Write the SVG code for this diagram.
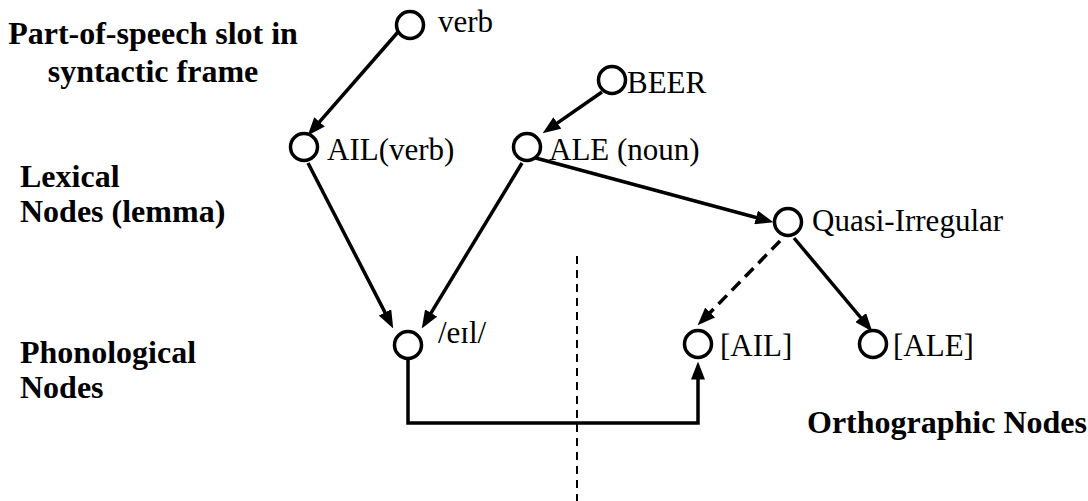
<svg xmlns="http://www.w3.org/2000/svg" width="1088" height="501" viewBox="0 0 1088 501">
<defs>
<marker id="arrow" viewBox="0 0 10 10" refX="5" refY="5" markerWidth="18" markerHeight="14" markerUnits="userSpaceOnUse" orient="auto" preserveAspectRatio="none">
<path d="M0,0 L10,5 L0,10 z" fill="#000"/>
</marker>
</defs>
<style>
.node{fill:#fff;stroke:#000;stroke-width:3.5}
.lbl{font-size:31px;fill:#000}
.hdr{font-size:32px;font-weight:bold;fill:#000}
.edge{fill:none;stroke:#000;stroke-width:3.5}
.dash{stroke-dasharray:12 7}
.divider{fill:none;stroke:#000;stroke-width:2;stroke-dasharray:8 6}
</style>
<rect width="1088" height="501" fill="#fff"/>
<g id="layer-labels" font-family="'Liberation Serif', 'DejaVu Serif', serif">
<text class="hdr" x="153" y="44" text-anchor="middle">Part-of-speech slot in</text>
<text class="hdr" x="153" y="82" text-anchor="middle">syntactic frame</text>
<text class="hdr" x="20" y="187">Lexical</text>
<text class="hdr" x="20" y="222">Nodes (lemma)</text>
<text class="hdr" x="20" y="363">Phonological</text>
<text class="hdr" x="20" y="398">Nodes</text>
<text class="hdr" x="807" y="433">Orthographic Nodes</text>
</g>
<line id="divider" class="divider" x1="577" y1="256" x2="577" y2="501"/>
<g id="connectors">
<line class="edge" x1="398" y1="32" x2="313.6" y2="128.6" marker-end="url(#arrow)"/>
<line class="edge" x1="602" y1="92" x2="550" y2="128.1" marker-end="url(#arrow)"/>
<line class="edge" x1="308" y1="163" x2="389.1" y2="320.4" marker-end="url(#arrow)"/>
<line class="edge" x1="522" y1="163" x2="426.4" y2="320.7" marker-end="url(#arrow)"/>
<line class="edge" x1="532" y1="157" x2="764.8" y2="219.8" marker-end="url(#arrow)"/>
<line class="edge dash" x1="780" y1="241" x2="703.9" y2="318.9" marker-end="url(#arrow)"/>
<line class="edge" x1="794" y1="238" x2="866.5" y2="324.5" marker-end="url(#arrow)"/>
<path class="edge" d="M408,359 V423 H698 V370.5" marker-end="url(#arrow)"/>
</g>
<g font-family="'Liberation Serif', 'DejaVu Serif', serif">
<g id="node-verb">
<circle class="node" cx="410" cy="25" r="13.5"/>
<text class="lbl" x="438" y="32">verb</text>
</g>
<g id="node-beer">
<circle class="node" cx="612" cy="80" r="13.5"/>
<text class="lbl" x="627" y="93">BEER</text>
</g>
<g id="node-ail-verb">
<circle class="node" cx="304" cy="147" r="13.5"/>
<text class="lbl" x="327" y="160">AIL(verb)</text>
</g>
<g id="node-ale-noun">
<circle class="node" cx="527" cy="147" r="13.5"/>
<text class="lbl" x="549" y="160">ALE (noun)</text>
</g>
<g id="node-quasi">
<circle class="node" cx="788" cy="222" r="13.5"/>
<text class="lbl" x="812" y="231">Quasi-Irregular</text>
</g>
<g id="node-phon">
<circle class="node" cx="408" cy="345" r="13.5"/>
<text class="lbl" x="438" y="343">/eɪl/</text>
</g>
<g id="node-orth-ail">
<circle class="node" cx="698" cy="344" r="13.5"/>
<text class="lbl" x="720" y="356">[AIL]</text>
</g>
<g id="node-orth-ale">
<circle class="node" cx="873" cy="344" r="13.5"/>
<text class="lbl" x="893" y="356">[ALE]</text>
</g>
</g>
</svg>
